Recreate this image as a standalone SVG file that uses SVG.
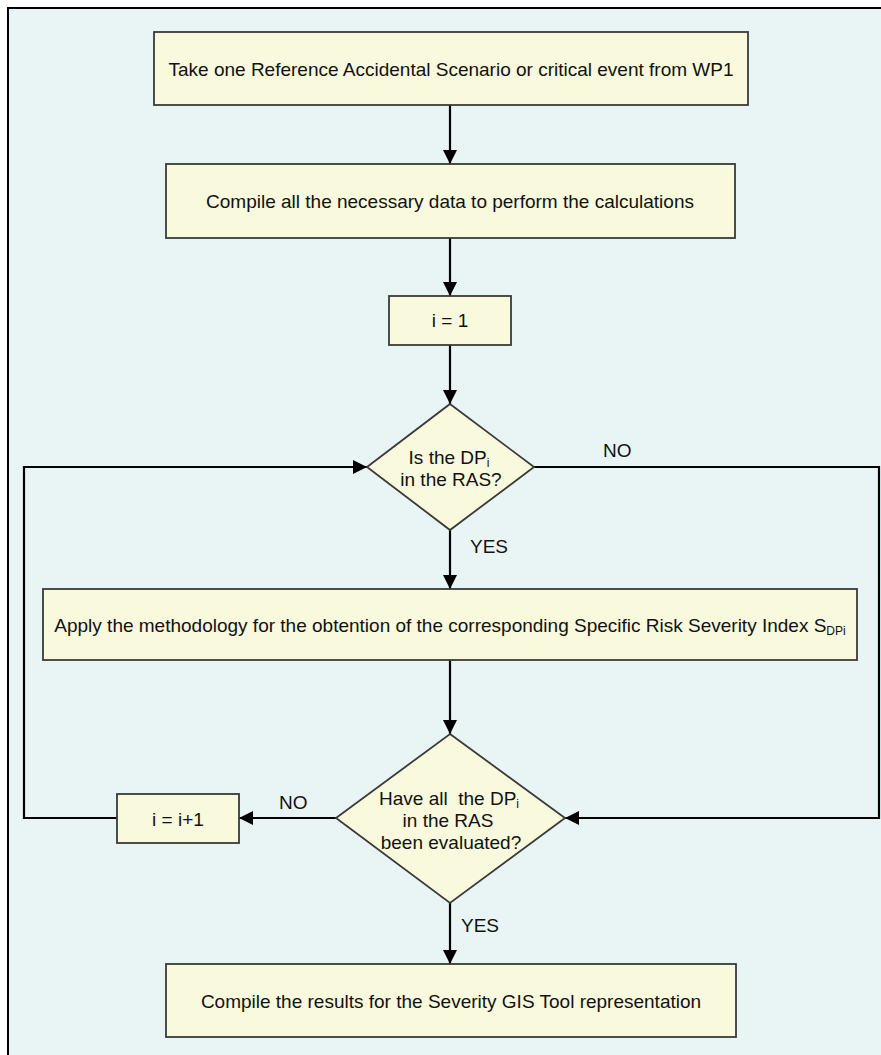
<svg xmlns="http://www.w3.org/2000/svg" width="881" height="1055" viewBox="0 0 881 1055">
  <style>
    .frame { fill: #E9F5F5; stroke: none; }
    .edge { stroke: #000; stroke-width: 2; fill: none; }
    .node { fill: #F8F9DD; stroke: #3a3a3a; stroke-width: 1.8; }
    .lbl { font-family: "Liberation Sans", Arial, sans-serif; font-size: 19px; fill: #111; }
    .sub { font-size: 12px; }
    .wire { stroke: #000; stroke-width: 2.2; fill: none; }
  </style>
  <defs>
    <marker id="arrow" viewBox="0 0 14 14" refX="14" refY="7" markerWidth="14" markerHeight="14" markerUnits="userSpaceOnUse" orient="auto">
      <path d="M0,0 L14,7 L0,14 Z" fill="#000"/>
    </marker>
  </defs>

  <!-- page background and frame -->
  <rect x="0" y="0" width="881" height="1055" fill="#fff"/>
  <rect class="frame" x="8" y="8" width="873" height="1047"/>
  <path class="edge" d="M8,1055 V8 H881"/>

  <!-- connectors -->
  <g id="connectors">
    <line class="wire" x1="450" y1="105" x2="450" y2="164" marker-end="url(#arrow)"/>
    <line class="wire" x1="450" y1="238" x2="450" y2="296" marker-end="url(#arrow)"/>
    <line class="wire" x1="450" y1="345" x2="450" y2="404" marker-end="url(#arrow)"/>
    <line class="wire" x1="450" y1="530" x2="450" y2="589" marker-end="url(#arrow)"/>
    <line class="wire" x1="450" y1="660" x2="450" y2="734" marker-end="url(#arrow)"/>
    <line class="wire" x1="450" y1="903" x2="450" y2="964" marker-end="url(#arrow)"/>
    <!-- NO branch of the first decision, back into the second -->
    <polyline class="wire" points="534,467 879,467 879,818 565,818" marker-end="url(#arrow)"/>
    <!-- NO branch of the second decision -->
    <line class="wire" x1="336" y1="818" x2="239" y2="818" marker-end="url(#arrow)"/>
    <!-- loop back from the increment -->
    <polyline class="wire" points="117,818 24,818 24,467 367,467" marker-end="url(#arrow)"/>

    <text class="lbl" x="603" y="457">NO</text>
    <text class="lbl" x="470" y="553">YES</text>
    <text class="lbl" x="279" y="809">NO</text>
    <text class="lbl" x="461" y="932">YES</text>
  </g>

  <g id="take-scenario">
    <rect class="node" x="154" y="32" width="594" height="73"/>
    <text class="lbl" x="451" y="76" text-anchor="middle">Take one Reference Accidental Scenario or critical event from WP1</text>
  </g>

  <g id="compile-data">
    <rect class="node" x="166" y="164" width="569" height="74"/>
    <text class="lbl" x="450" y="208" text-anchor="middle">Compile all the necessary data to perform the calculations</text>
  </g>

  <g id="init-i">
    <rect class="node" x="389" y="296" width="122" height="49"/>
    <text class="lbl" x="450" y="327" text-anchor="middle">i = 1</text>
  </g>

  <g id="dp-in-ras">
    <polygon class="node" points="450,404 534,467 450,530 367,467"/>
    <text class="lbl" x="449" y="464" text-anchor="middle">Is the DP<tspan class="sub" dy="3">i</tspan></text>
    <text class="lbl" x="451" y="486" text-anchor="middle">in the RAS?</text>
  </g>

  <g id="apply-method">
    <rect class="node" x="43" y="589" width="814" height="71"/>
    <text class="lbl" x="450" y="632" text-anchor="middle">Apply the methodology for the obtention of the corresponding Specific Risk Severity Index S<tspan class="sub" dy="3">DPi</tspan></text>
  </g>

  <g id="all-evaluated">
    <polygon class="node" points="450,734 565,818 450,903 336,818"/>
    <text class="lbl" x="449" y="805" text-anchor="middle" xml:space="preserve">Have all  the DP<tspan class="sub" dy="3">i</tspan></text>
    <text class="lbl" x="448" y="827" text-anchor="middle">in the RAS</text>
    <text class="lbl" x="451" y="849" text-anchor="middle">been evaluated?</text>
  </g>

  <g id="increment-i">
    <rect class="node" x="117" y="794" width="122" height="49"/>
    <text class="lbl" x="178" y="826" text-anchor="middle">i = i+1</text>
  </g>

  <g id="compile-results">
    <rect class="node" x="166" y="964" width="570" height="73"/>
    <text class="lbl" x="451" y="1008" text-anchor="middle">Compile the results for the Severity GIS Tool representation</text>
  </g>
</svg>
